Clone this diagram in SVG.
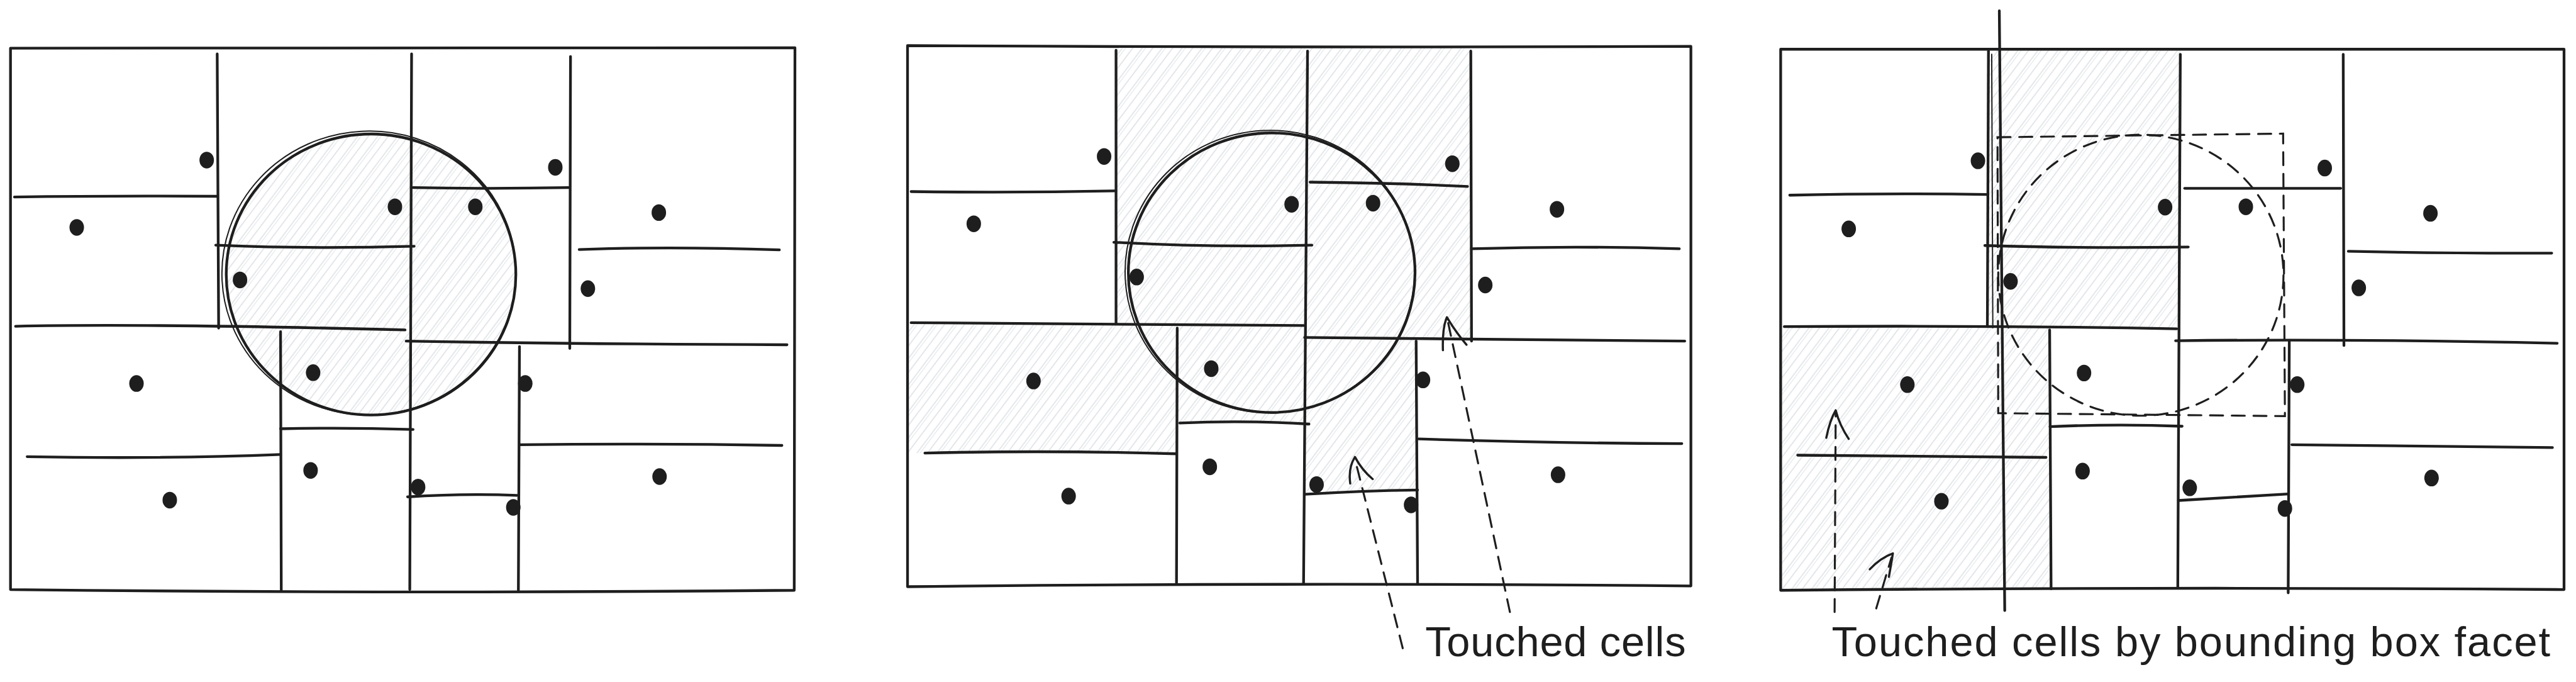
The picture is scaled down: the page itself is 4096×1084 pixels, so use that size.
<svg xmlns="http://www.w3.org/2000/svg" width="4096" height="1084" viewBox="0 0 4096 1084">
<style>
.ln{stroke:#1e1e1e;stroke-width:7.5;fill:none;stroke-linecap:round;stroke-linejoin:round}
.thin{stroke:#1e1e1e;stroke-width:3.5;fill:none;stroke-linecap:round}
.dash{stroke:#1e1e1e;stroke-width:5.5;fill:none;stroke-dasharray:36 24;stroke-linecap:round}
.arr{stroke:#1e1e1e;stroke-width:6;fill:none;stroke-linecap:round;stroke-linejoin:round}
.dot{fill:#1e1e1e}
.hatch{fill:url(#hatch);stroke:none}
.lbl{font-family:"Liberation Sans",Arial,sans-serif;font-size:116px;fill:#1e1e1e}
</style>
<defs>
<pattern id="hatch" patternUnits="userSpaceOnUse" width="44" height="200" patternTransform="rotate(37)">
<line x1="4" y1="0" x2="4" y2="200" stroke="#dde1e5" stroke-width="2.8"/>
<line x1="11" y1="0" x2="11" y2="200" stroke="#e3e6ea" stroke-width="2.2"/>
<line x1="27" y1="0" x2="27" y2="200" stroke="#dde1e5" stroke-width="2.8"/>
</pattern>
</defs>
<rect width="4096" height="1084" fill="#ffffff"/>
<g transform="scale(0.5756)">

<!-- ============ PANEL 1 ============ -->
<g id="panel1">
<g id="p1-circle-fill"><ellipse class="hatch" cx="1025" cy="758" rx="400" ry="388"/></g>
<g id="p1-frame"><path class="ln" d="M29,133 Q1110,128 2196,132 L2194,1630 Q1110,1640 29,1628 Z"/></g>
<g id="p1-cells">
<path class="ln" d="M600,149 L604,906"/>
<path class="ln" d="M1137,149 L1132,1628"/>
<path class="ln" d="M1576,156 L1574,962"/>
<path class="ln" d="M775,916 L777,1630"/>
<path class="ln" d="M1435,957 L1432,1630"/>
<path class="ln" d="M40,544 Q300,540 600,542"/>
<path class="ln" d="M596,677 Q850,688 1144,680"/>
<path class="ln" d="M43,901 Q400,893 1119,911"/>
<path class="ln" d="M1141,518 Q1350,522 1571,518"/>
<path class="ln" d="M1600,689 Q1850,680 2153,690"/>
<path class="ln" d="M1122,942 Q1600,950 2174,952"/>
<path class="ln" d="M775,1184 Q950,1180 1141,1186"/>
<path class="ln" d="M75,1261 Q450,1268 775,1255"/>
<path class="ln" d="M1435,1228 Q1800,1224 2160,1230"/>
<path class="ln" d="M1126,1372 Q1280,1362 1428,1368"/>
</g>
<g id="p1-circle">
<ellipse class="ln" cx="1025" cy="758" rx="400" ry="388"/>
<ellipse class="thin" cx="1019" cy="754" rx="406" ry="392" transform="rotate(-3 1019 754)"/>
</g>
<g id="p1-seeds">
<ellipse class="dot" cx="571" cy="442" rx="20" ry="23"/>
<ellipse class="dot" cx="212" cy="628" rx="20" ry="23"/>
<ellipse class="dot" cx="1091" cy="571" rx="20" ry="23"/>
<ellipse class="dot" cx="1313" cy="571" rx="20" ry="23"/>
<ellipse class="dot" cx="1534" cy="462" rx="20" ry="23"/>
<ellipse class="dot" cx="1820" cy="587" rx="20" ry="23"/>
<ellipse class="dot" cx="663" cy="773" rx="20" ry="23"/>
<ellipse class="dot" cx="1624" cy="797" rx="20" ry="23"/>
<ellipse class="dot" cx="377" cy="1059" rx="20" ry="23"/>
<ellipse class="dot" cx="865" cy="1029" rx="20" ry="23"/>
<ellipse class="dot" cx="1451" cy="1059" rx="20" ry="23"/>
<ellipse class="dot" cx="858" cy="1299" rx="20" ry="23"/>
<ellipse class="dot" cx="469" cy="1381" rx="20" ry="23"/>
<ellipse class="dot" cx="1155" cy="1345" rx="20" ry="23"/>
<ellipse class="dot" cx="1418" cy="1401" rx="20" ry="23"/>
<ellipse class="dot" cx="1822" cy="1316" rx="20" ry="23"/>
</g>
</g>

<!-- ============ PANEL 2 ============ -->
<g id="panel2">
<g id="p2-touched">
<rect class="hatch" x="3083" y="128" width="527" height="767"/>
<rect class="hatch" x="3610" y="128" width="453" height="809"/>
<rect class="hatch" x="2509" y="895" width="743" height="356"/>
<rect class="hatch" x="3252" y="897" width="353" height="271"/>
<rect class="hatch" x="3605" y="937" width="309" height="422"/>
</g>
<g id="p2-frame"><path class="ln" d="M2507,126 Q3590,132 4671,128 L4671,1618 Q3590,1608 2507,1620 Z"/></g>
<g id="p2-cells">
<path class="ln" d="M3083,139 L3083,893"/>
<path class="ln" d="M3612,141 L3601,1610"/>
<path class="ln" d="M4063,141 L4065,942"/>
<path class="ln" d="M3252,906 L3250,1610"/>
<path class="ln" d="M3912,942 L3916,1612"/>
<path class="ln" d="M2517,529 Q2800,533 3080,527"/>
<path class="ln" d="M3077,669 Q3350,684 3624,677"/>
<path class="ln" d="M2517,891 L3601,899"/>
<path class="ln" d="M3619,503 Q3850,505 4054,515"/>
<path class="ln" d="M4066,687 Q4350,678 4639,687"/>
<path class="ln" d="M3604,932 L4654,942"/>
<path class="ln" d="M3259,1168 Q3440,1160 3616,1171"/>
<path class="ln" d="M2555,1251 Q2900,1243 3249,1253"/>
<path class="ln" d="M3919,1212 Q4300,1224 4646,1225"/>
<path class="ln" d="M3604,1365 Q3760,1355 3916,1353"/>
</g>
<g id="p2-circle">
<ellipse class="ln" cx="3513" cy="753" rx="396" ry="386"/>
<ellipse class="thin" cx="3508" cy="750" rx="400" ry="390" transform="rotate(-3 3508 750)"/>
</g>
<g id="p2-seeds">
<ellipse class="dot" cx="3050" cy="432" rx="20" ry="23"/>
<ellipse class="dot" cx="2690" cy="618" rx="20" ry="23"/>
<ellipse class="dot" cx="3568" cy="564" rx="20" ry="23"/>
<ellipse class="dot" cx="3793" cy="561" rx="20" ry="23"/>
<ellipse class="dot" cx="4012" cy="452" rx="20" ry="23"/>
<ellipse class="dot" cx="4301" cy="578" rx="20" ry="23"/>
<ellipse class="dot" cx="3140" cy="765" rx="20" ry="23"/>
<ellipse class="dot" cx="4103" cy="787" rx="20" ry="23"/>
<ellipse class="dot" cx="2855" cy="1052" rx="20" ry="23"/>
<ellipse class="dot" cx="3346" cy="1018" rx="20" ry="23"/>
<ellipse class="dot" cx="3931" cy="1049" rx="20" ry="23"/>
<ellipse class="dot" cx="3342" cy="1289" rx="20" ry="23"/>
<ellipse class="dot" cx="2952" cy="1370" rx="20" ry="23"/>
<ellipse class="dot" cx="3637" cy="1338" rx="20" ry="23"/>
<ellipse class="dot" cx="3898" cy="1394" rx="20" ry="23"/>
<ellipse class="dot" cx="4304" cy="1311" rx="20" ry="23"/>
</g>
</g>

<!-- ============ PANEL 3 ============ -->
<g id="panel3">
<g id="p3-touched">
<rect class="hatch" x="5493" y="138" width="530" height="767"/>
<rect class="hatch" x="4921" y="905" width="741" height="721"/>
</g>
<g id="p3-frame"><path class="ln" d="M4919,136 L7083,136 L7083,1628 Q6000,1620 4919,1630 Z"/></g>
<g id="p3-cells">
<path class="ln" d="M5493,141 L5490,900"/>
<path class="thin" d="M5502,150 L5505,905"/>
<path class="ln" d="M6023,150 L6016,1621"/>
<path class="ln" d="M6473,150 L6475,954"/>
<path class="ln" d="M5662,911 L5666,1626"/>
<path class="ln" d="M6324,943 L6321,1637"/>
<path class="ln" d="M4944,539 Q5200,533 5490,537"/>
<path class="ln" d="M5483,678 Q5750,686 6045,682"/>
<path class="ln" d="M4929,902 Q5500,898 6013,908"/>
<path class="ln" d="M6035,520 L6466,520"/>
<path class="ln" d="M6487,694 Q6750,700 7049,699"/>
<path class="ln" d="M6010,941 Q6500,935 7064,948"/>
<path class="ln" d="M5663,1178 Q5850,1170 6028,1177"/>
<path class="ln" d="M4966,1257 L5652,1263"/>
<path class="ln" d="M6331,1228 L7051,1236"/>
<path class="ln" d="M6018,1382 L6321,1364"/>
</g>
<g id="p3-facet"><path class="ln" d="M5523,30 L5538,1686"/></g>
<g id="p3-bbox">
<path class="dash" d="M5518,379 L6307,369 L6312,1149 L5520,1141 Z"/>
<ellipse class="dash" cx="5914" cy="760" rx="394" ry="388"/>
</g>
<g id="p3-seeds">
<ellipse class="dot" cx="5464" cy="444" rx="20" ry="23"/>
<ellipse class="dot" cx="5107" cy="632" rx="20" ry="23"/>
<ellipse class="dot" cx="5981" cy="572" rx="20" ry="23"/>
<ellipse class="dot" cx="6204" cy="571" rx="20" ry="23"/>
<ellipse class="dot" cx="6422" cy="464" rx="20" ry="23"/>
<ellipse class="dot" cx="6714" cy="589" rx="20" ry="23"/>
<ellipse class="dot" cx="5554" cy="777" rx="20" ry="23"/>
<ellipse class="dot" cx="6516" cy="795" rx="20" ry="23"/>
<ellipse class="dot" cx="5269" cy="1062" rx="20" ry="23"/>
<ellipse class="dot" cx="5757" cy="1030" rx="20" ry="23"/>
<ellipse class="dot" cx="6346" cy="1062" rx="20" ry="23"/>
<ellipse class="dot" cx="5753" cy="1301" rx="20" ry="23"/>
<ellipse class="dot" cx="5363" cy="1384" rx="20" ry="23"/>
<ellipse class="dot" cx="6049" cy="1347" rx="20" ry="23"/>
<ellipse class="dot" cx="6312" cy="1404" rx="20" ry="23"/>
<ellipse class="dot" cx="6717" cy="1320" rx="20" ry="23"/>
</g>
</g>

<!-- ============ CONNECTORS ============ -->
<g id="connectors">
<path class="dash" d="M3875,1790 L3743,1268"/>
<path class="arr" d="M3730,1335 Q3724,1292 3743,1262 Q3762,1298 3792,1323"/>
<path class="dash" d="M4171,1690 L3998,880"/>
<path class="arr" d="M3986,967 Q3984,905 3997,876 Q4020,915 4051,952"/>
<path class="dash" d="M5068,1690 L5071,1138"/>
<path class="arr" d="M5045,1209 Q5055,1160 5071,1133 Q5082,1175 5107,1212"/>
<path class="dash" d="M5183,1680 L5225,1540"/>
<path class="arr" d="M5165,1572 Q5195,1540 5229,1528 Q5224,1560 5218,1593"/>
</g>

<!-- ============ LABELS ============ -->
<g id="labels">
<text class="lbl" x="3937" y="1812" textLength="720">Touched cells</text>
<text class="lbl" x="5060" y="1812" textLength="1985">Touched cells by bounding box facet</text>
</g>
</g>
</svg>
